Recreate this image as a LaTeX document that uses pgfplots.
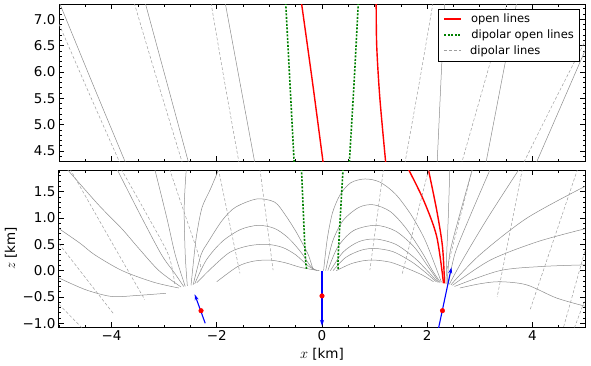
\documentclass[border=0pt]{standalone}
\usepackage{fontspec}
\setmainfont{DejaVu Sans}
\usepackage{pgfplots}
\pgfplotsset{compat=1.18}
\usetikzlibrary{arrows.meta}
\definecolor{solgray}{gray}{0.55}
\definecolor{dashgray}{gray}{0.62}
\definecolor{mygreen}{rgb}{0,0.5,0}
\definecolor{myred}{rgb}{1,0,0}
\pgfplotsset{
  myax/.style={scale only axis, width=526pt, height=157pt, xmin=-5, xmax=5,
    axis line style={line width=1pt}, tick align=inside, xtick pos=both, ytick pos=both,
    major tick length=5pt, minor tick length=2.5pt,
    tick style={black, line width=0.7pt},
    xtick={-4,-2,0,2,4}, minor xtick={-5,-4.5,...,5},
    tick label style={font=\fontsize{13.5}{15}\selectfont},
    clip=true},
  solB/.style={color=solgray, line width=0.5pt, smooth},
  dshB/.style={color=dashgray, line width=0.5pt, dash pattern=on 3pt off 2pt, smooth},
  opnB/.style={color=myred, line width=1.4pt, smooth},
  dopB/.style={color=mygreen, line width=1.6pt, dash pattern=on 2pt off 1.5pt, smooth},
  sol/.style={solB, forget plot},
  dsh/.style={dshB, forget plot},
  opn/.style={opnB, forget plot},
  dop/.style={dopB, forget plot},
  dip/.style={blue, line width=1.1pt, -{Stealth[length=6pt,width=4pt]}, forget plot},
}
\newcommand{\legline}[1]{\tikz[baseline=-3.8pt]\draw[#1] (0pt,0pt) -- (17pt,0pt);\hspace*{9pt}}
\begin{document}
\begin{tikzpicture}[x=1pt,y=1pt]
\path[use as bounding box] (0,0) rectangle (591,365);
% ---------------- top panel ----------------
\begin{axis}[myax, at={(59pt,204pt)}, anchor=south west,
  ymin=4.31, ymax=7.29, xticklabels={},
  ytick={4.5,5,5.5,6,6.5,7}, yticklabels={4.5,5.0,5.5,6.0,6.5,7.0},
  minor ytick={4.4,4.5,...,7.3},
  legend style={at={(1,1)}, anchor=north east, xshift=-6pt, yshift=-5pt,
    font=\fontsize{11.5}{13}\selectfont,
    cells={anchor=west}, inner xsep=3pt, inner ysep=3pt, row sep=1.5pt}]
\addlegendimage{empty legend}
\addlegendentry{\legline{color=myred, line width=1.4pt}open lines}
\addlegendimage{empty legend}
\addlegendentry{\legline{color=mygreen, line width=1.6pt, dash pattern=on 2pt off 1.5pt}dipolar open lines}
\addlegendimage{empty legend}
\addlegendentry{\legline{color=dashgray, line width=0.5pt, dash pattern=on 3pt off 2pt}dipolar lines}
\addplot[opn] coordinates {(-0.39,7.31) (-0.18,5.8) (0.02,4.29)};
\addplot[dop] coordinates {(-0.69,7.31) (-0.61,5.8) (-0.53,4.29)};
\addplot[dsh] coordinates {(-5.0,6.91) (-4.43,5.6) (-3.85,4.29)};
\addplot[sol] coordinates {(-4.99,7.31) (-4.37,5.8) (-3.74,4.29)};
\addplot[sol] coordinates {(-3.36,7.31) (-2.95,5.8) (-2.54,4.29)};
\addplot[sol] coordinates {(-1.84,7.31) (-1.56,5.8) (-1.28,4.29)};
\addplot[dsh] coordinates {(-3.57,7.31) (-3.12,5.8) (-2.66,4.29)};
\addplot[dsh] coordinates {(-2.11,7.31) (-1.85,5.8) (-1.58,4.29)};
\addplot[dop] coordinates {(0.69,7.31) (0.61,5.8) (0.52,4.29)};
\addplot[opn] coordinates {(1.03,7.31) (1.04,6.5) (1.10,5.5) (1.21,4.29)};
\addplot[dsh] coordinates {(2.11,7.31) (1.85,5.8) (1.58,4.29)};
\addplot[sol] coordinates {(2.33,7.31) (2.26,5.8) (2.19,4.29)};
\addplot[dsh] coordinates {(3.52,7.31) (3.09,5.8) (2.66,4.29)};
\addplot[sol] coordinates {(3.70,7.31) (3.41,5.8) (3.12,4.29)};
\addplot[dsh] coordinates {(3.84,4.29) (4.42,5.45) (5.02,6.62)};
\addplot[sol] coordinates {(4.08,4.29) (4.55,5.37) (5.02,6.45)};
\end{axis}
% ---------------- bottom panel ----------------
\begin{axis}[myax, at={(59pt,38pt)}, anchor=south west,
  ymin=-1.07, ymax=1.91,
  xticklabels={−4,−2,0,2,4},
  ytick={-1,-0.5,0,0.5,1,1.5}, yticklabels={−1.0,−0.5,0.0,0.5,1.0,1.5},
  minor ytick={-1.0,-0.9,...,1.9},
  xlabel={$x$ [km]}, ylabel={$z$ [km]},
  label style={font=\fontsize{13.5}{15}\selectfont},
  xlabel style={yshift=-1pt}, ylabel style={yshift=-1pt}]
% left group
\addplot[sol] coordinates {(-5.02,-0.13) (-4.5,-0.36) (-4.0,-0.49) (-3.5,-0.47) (-2.97,-0.43)};
\addplot[sol] coordinates {(-5.02,0.81) (-4.6,0.52) (-4.32,0.30) (-3.8,0.0) (-3.2,-0.22) (-2.72,-0.33)};
\addplot[sol] coordinates {(-4.85,1.93) (-4.25,1.25) (-3.81,0.80) (-3.49,0.43) (-3.1,0.0) (-2.68,-0.31)};
\addplot[sol] coordinates {(-3.9,1.93) (-3.45,1.05) (-3.05,0.30) (-2.80,-0.05) (-2.63,-0.30)};
\addplot[sol] coordinates {(-3.18,1.93) (-2.95,1.0) (-2.79,0.30) (-2.6,-0.30)};
\addplot[sol] coordinates {(-2.58,1.93) (-2.62,1.2) (-2.60,0.30) (-2.56,-0.29)};
\addplot[sol] coordinates {(-1.96,1.93) (-2.12,1.55) (-2.28,1.2) (-2.38,0.7) (-2.43,0.3) (-2.49,-0.28)};
\addplot[sol] coordinates {(-2.45,-0.27) (-2.3,0.3) (-2.16,0.55) (-1.9,0.95) (-1.65,1.2) (-1.24,1.36) (-0.9,1.3) (-0.7,1.06) (-0.5,0.75) (-0.39,0.55) (-0.26,0.30) (-0.17,0.02)};
\addplot[sol] coordinates {(-2.42,-0.25) (-2.2,0.2) (-1.9,0.55) (-1.55,0.78) (-1.21,0.86) (-0.9,0.8) (-0.64,0.62) (-0.4,0.35) (-0.23,0.1) (-0.13,0.01)};
\addplot[sol] coordinates {(-2.38,-0.23) (-2.1,0.05) (-1.75,0.35) (-1.4,0.47) (-1.05,0.50) (-0.75,0.44) (-0.5,0.3) (-0.25,0.08) (-0.09,0.0)};
\addplot[sol] coordinates {(-2.0,-0.21) (-1.6,0.08) (-1.3,0.18) (-0.99,0.20) (-0.7,0.15) (-0.4,0.06) (-0.05,0.0)};
% center-right arches
\addplot[sol] coordinates {(0.03,0.0) (0.1,0.6) (0.2,1.1) (0.35,1.45) (0.55,1.67) (0.82,1.74) (1.1,1.68) (1.4,1.45) (1.7,1.05) (1.95,0.6) (2.15,0.1) (2.27,-0.22)};
\addplot[sol] coordinates {(0.07,0.0) (0.2,0.55) (0.4,0.95) (0.7,1.2) (0.98,1.25) (1.3,1.12) (1.6,0.8) (1.9,0.35) (2.1,0.0) (2.25,-0.22)};
\addplot[sol] coordinates {(0.11,0.0) (0.3,0.45) (0.6,0.76) (1.02,0.86) (1.4,0.75) (1.75,0.45) (2.0,0.1) (2.23,-0.23)};
\addplot[sol] coordinates {(0.16,0.0) (0.4,0.35) (0.7,0.55) (1.02,0.60) (1.4,0.5) (1.75,0.25) (2.0,0.0) (2.2,-0.22)};
\addplot[sol] coordinates {(0.21,0.0) (0.45,0.25) (0.75,0.39) (1.02,0.42) (1.35,0.36) (1.7,0.17) (1.95,-0.02) (2.17,-0.21)};
\addplot[sol] coordinates {(0.27,0.0) (0.55,0.13) (0.8,0.19) (1.0,0.20) (1.3,0.16) (1.6,0.05) (1.9,-0.08) (2.12,-0.21)};
% right group
\addplot[sol] coordinates {(2.36,-0.25) (2.37,0.3) (2.40,1.0) (2.43,1.93)};
\addplot[sol] coordinates {(2.38,-0.25) (2.43,0.33) (2.6,1.0) (2.86,1.93)};
\addplot[sol] coordinates {(2.40,-0.26) (2.53,0.33) (2.8,1.0) (3.20,1.93)};
\addplot[sol] coordinates {(2.42,-0.26) (2.7,0.25) (3.15,1.0) (3.75,1.93)};
\addplot[sol] coordinates {(2.45,-0.27) (3.0,0.30) (3.9,1.0) (5.02,1.61)};
\addplot[sol] coordinates {(2.48,-0.28) (3.2,0.2) (4.1,0.55) (5.02,0.80)};
\addplot[sol] coordinates {(2.52,-0.30) (3.38,0.0) (4.2,0.08) (5.02,0.11)};
\addplot[sol] coordinates {(2.62,-0.33) (3.0,-0.25) (3.38,-0.21) (3.89,-0.27) (4.46,-0.52) (5.02,-0.68)};
% open lines
\addplot[opn] coordinates {(1.64,1.93) (1.93,1.34) (2.18,0.65) (2.31,-0.24)};
\addplot[opn] coordinates {(2.02,1.93) (2.18,1.15) (2.29,0.46) (2.33,-0.24)};
\addplot[dop] coordinates {(-0.39,1.93) (-0.32,0.33) (-0.29,0.02)};
\addplot[dop] coordinates {(0.40,1.93) (0.31,0.33) (0.31,0.02)};
% dipolar lines
\addplot[dsh] coordinates {(-4.79,1.93) (-3.97,0.49) (-3.37,-0.55)};
\addplot[dsh] coordinates {(-5.0,0.51) (-3.97,-0.81)};
\addplot[dsh] coordinates {(-5.0,-0.64) (-4.57,-1.08)};
\addplot[dsh] coordinates {(-3.82,1.93) (-3.35,1.1) (-2.92,0.30) (-2.80,-0.25)};
\addplot[dsh] coordinates {(-2.90,1.93) (-2.55,0.9) (-2.35,0.30) (-2.3,0.0)};
\addplot[dsh] coordinates {(-1.97,1.93) (-1.56,-0.05)};
\addplot[dsh] coordinates {(-1.18,1.93) (-0.93,0.01)};
\addplot[dsh] coordinates {(1.17,1.93) (0.91,0.01)};
\addplot[dsh] coordinates {(2.03,1.93) (1.52,-0.08)};
\addplot[dsh] coordinates {(2.86,1.93) (2.37,0.01)};
\addplot[dsh] coordinates {(3.81,1.93) (3.33,-0.5)};
\addplot[dsh] coordinates {(4.86,1.93) (3.95,-0.76)};
\addplot[dsh] coordinates {(5.02,0.45) (4.59,-1.08)};
\addplot[dsh] coordinates {(5.02,-0.5) (4.8,-1.08)};
% dipoles
\addplot[dip] coordinates {(-2.22,-1.0) (-2.42,-0.45)};
\addplot[dip] coordinates {(0,0.0) (0,-1.05)};
\addplot[dip] coordinates {(2.21,-1.12) (2.46,0.06)};
\addplot[only marks, mark=*, mark size=2.3pt, color=myred, forget plot] coordinates {(-2.30,-0.76) (0,-0.48) (2.29,-0.76)};
\end{axis}
\end{tikzpicture}
\end{document}
